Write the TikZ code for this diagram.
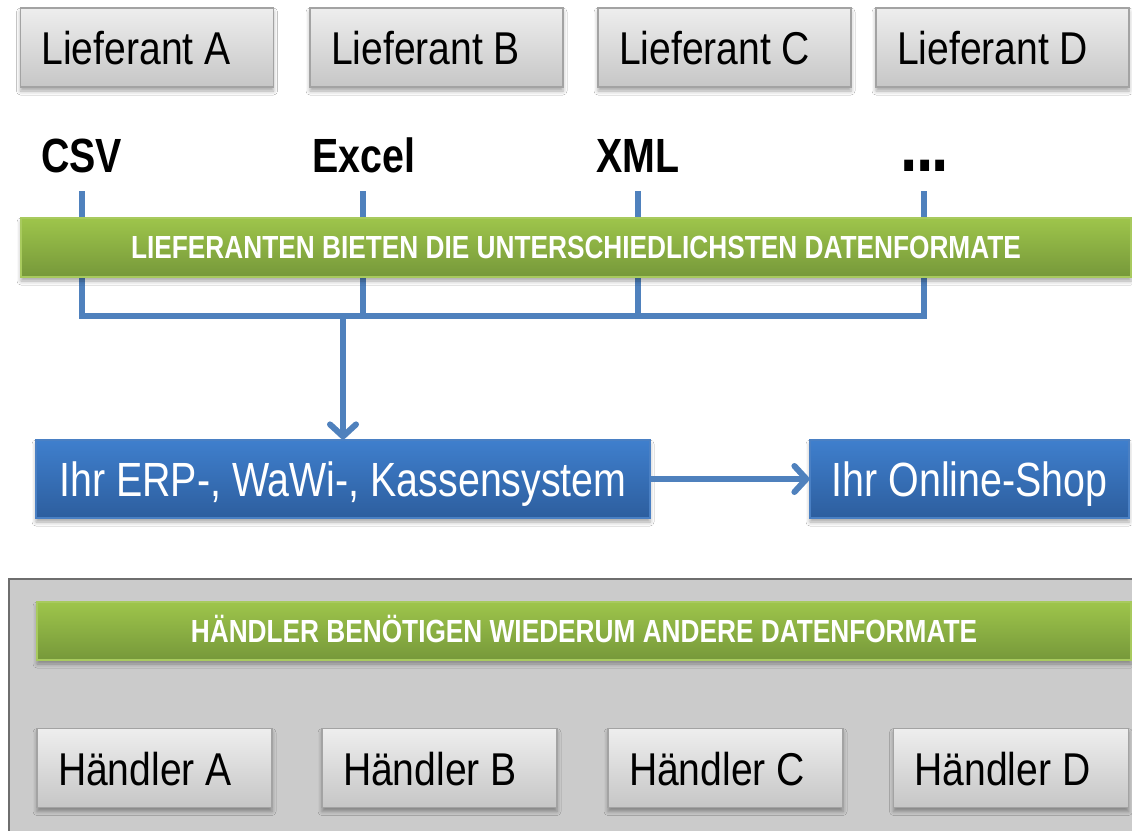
\documentclass[tikz,border=0pt]{standalone}
\usepackage{fontspec}
\setmainfont{Liberation Sans}[FakeStretch=0.82]
\newfontfamily\boxfont{Liberation Sans}[FakeStretch=0.85]
\usetikzlibrary{arrows.meta,shadows.blur}
\definecolor{lineblue}{HTML}{4F81BD}
\definecolor{graytop}{HTML}{EEEEEE}
\definecolor{graybot}{HTML}{C6C6C6}
\definecolor{grayborder}{HTML}{A3A3A3}
\definecolor{greentop}{HTML}{9EC54B}
\definecolor{greenbot}{HTML}{76983A}
\definecolor{greenborder}{HTML}{A8CA5E}
\definecolor{bluetop}{HTML}{3F7FCD}
\definecolor{bluebot}{HTML}{2D5E9E}
\definecolor{blueborder}{HTML}{4A80C4}
\definecolor{panelfill}{HTML}{CBCBCB}
\definecolor{panelborder}{HTML}{6E6E6E}
\begin{document}
\begin{tikzpicture}[x=1pt,y=-1pt,
  softshadow/.style={blur shadow={shadow xshift=0pt,shadow yshift=-4pt,shadow blur radius=4pt,shadow opacity=35}},
  graybox/.style={draw=grayborder, line width=1.2pt, top color=graytop, bottom color=graybot,
    minimum height=79pt, text width=211pt, inner xsep=21pt, inner ysep=0pt, align=flush left,
    text height=34pt, text depth=0pt, font=\fontsize{46}{50}\boxfont, softshadow},
  greenbar/.style={draw=greenborder, line width=1.2pt, top color=greentop, bottom color=greenbot,
    inner sep=0pt, text=white, text height=22pt, text depth=0pt,
    font=\fontsize{32}{35}\selectfont\bfseries, softshadow},
  bluebox/.style={draw=blueborder, line width=1.2pt, top color=bluetop, bottom color=bluebot,
    minimum height=78pt, inner sep=0pt, text=white, text height=35pt, text depth=0pt,
    font=\fontsize{48}{52}\selectfont, softshadow},
  fmt/.style={anchor=base west, inner sep=0pt, font=\fontsize{48}{52}\selectfont\bfseries},
  conn/.style={draw=lineblue, line width=6pt},
  tip/.style={-{Straight Barb[length=12pt,width=26pt,round]}}
]
\clip (0,0) rectangle (1132,830);
\fill[white] (0,0) rectangle (1132,830);

% suppliers
\node[graybox] (la) at (147,47.5) {Lieferant A};
\node[graybox] (lb) at (436.5,47.5) {Lieferant B};
\node[graybox] (lc) at (724.5,47.5) {Lieferant C};
\node[graybox] (ld) at (1002.5,47.5) {Lieferant D};

% formats
\node[fmt] (csv) at (41,172) {CSV};
\node[fmt] (excel) at (312,172) {Excel};
\node[fmt] (xml) at (596,172) {XML};
\node[fmt, font=\fontsize{76}{80}\selectfont\bfseries] (more) at (900,171) {.\kern-1.5pt.\kern-1.5pt.};

\coordinate (t1) at (82,191);
\coordinate (t2) at (363,191);
\coordinate (t3) at (638,191);
\coordinate (t4) at (924,191);
\coordinate (b1) at (82,316);
\coordinate (b2) at (363,316);
\coordinate (b3) at (638,316);
\coordinate (b4) at (924,316);

\draw[conn] (t1) -- (b1);
\draw[conn] (t2) -- (b2);
\draw[conn] (t3) -- (b3);
\draw[conn] (t4) -- (b4);
\draw[conn] ([xshift=-3pt]b1) -- ([xshift=3pt]b4);

% green bar 1
\node[greenbar, minimum width=1110pt, minimum height=59pt] (bar1) at (576,247.5)
  {LIEFERANTEN BIETEN DIE UNTERSCHIEDLICHSTEN DATENFORMATE};

% systems
\node[bluebox, minimum width=614pt] (erp) at (343,479) {Ihr ERP-, WaWi-, Kassensystem};
\node[bluebox, minimum width=319pt] (shop) at (969.5,479) {Ihr Online-Shop};

\draw[conn,tip] (erp.north |- b1) -- (erp.north);
\draw[conn,tip] (erp.east) -- (shop.west);

% dealer panel
\draw[fill=panelfill, draw=panelborder, line width=1.5pt] (9,579) rectangle (1150,850);
\node[greenbar, minimum width=1094pt, minimum height=58pt] (bar2) at (584,631)
  {HÄNDLER BENÖTIGEN WIEDERUM ANDERE DATENFORMATE};

\node[graybox, text width=193pt] (ha) at (154.5,768) {Händler A};
\node[graybox, text width=193pt] (hb) at (439.5,768) {Händler B};
\node[graybox, text width=193pt] (hc) at (725.5,768) {Händler C};
\node[graybox, text width=193pt] (hd) at (1011,768) {Händler D};
\end{tikzpicture}
\end{document}
